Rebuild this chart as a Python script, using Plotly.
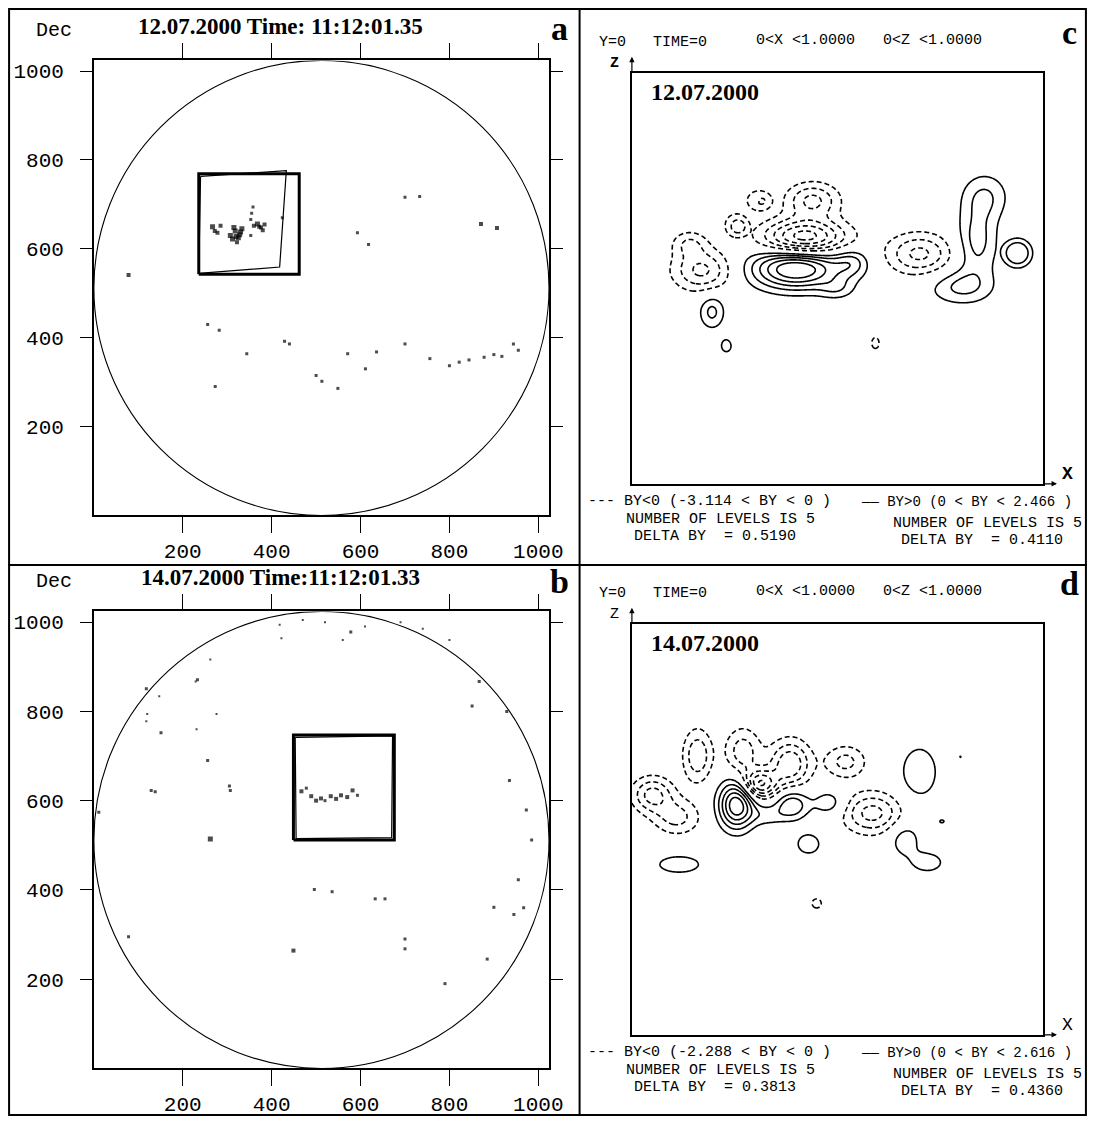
import numpy as np
import plotly.graph_objects as go

# ---------------- page geometry (screen pixels) ----------------
OFF = 8                      # default body margin of the html page
FW, FH = 1109 - 2 * OFF, 1129 - 2 * OFF - 4
SY = FH / (1129 - 2 * OFF)   # tiny vertical squeeze so the page never overflows

def px(x):
    return (x - OFF) / FW

def py(y):
    return 1 - (y - OFF) * SY / FH

# ---------------- panels a / b : solar disk ----------------
disk_center = [512, 512]
disk_radius = 512
disk_ticks = [200, 400, 600, 800, 1000]

a_spot_x = [78, 267, 272, 278, 285, 307, 312, 318, 322, 328, 333, 315, 360, 368, 376, 384, 353, 355, 358, 353, 424,
            593, 618, 700, 733, 871, 907, 256, 282, 344, 429, 440, 273, 500, 513, 549, 571, 611, 636, 700, 756,
            800, 822, 844, 878, 900, 918, 944, 955, 325, 330, 320, 372, 380]
a_spot_y = [541, 650, 640, 636, 652, 630, 622, 640, 615, 632, 645, 648, 652, 656, 648, 655, 666, 680, 694, 630, 670,
            636, 610, 716, 718, 656, 647, 430, 417, 364, 392, 386, 290, 315, 302, 286, 364, 330, 368, 386, 353,
            337, 345, 350, 356, 362, 358, 386, 372, 625, 638, 628, 650, 642]
a_spot_s = [4, 5, 4, 4, 4, 5, 5, 5, 4, 5, 5, 5, 4, 5, 4, 4, 3, 3, 3, 3, 3,
            3, 3, 3, 3, 4, 4, 3, 3, 3, 3, 3, 3, 3, 3, 3, 3, 3, 3, 3, 3,
            3, 3, 3, 3, 3, 3, 3, 3, 5, 5, 5, 4, 4]
a_box_x = [236, 462, 462, 236, 236]
a_box_y = [543, 543, 769, 769, 543]
a_quad_x = [240, 433, 418, 236, 240]
a_quad_y = [763, 776, 559, 545, 763]

b_spot_x = [467, 489, 511, 533, 556, 582, 593, 478, 520, 262, 129, 138, 233, 256, 307, 305, 151, 118, 11, 78,
            449, 496, 536, 633, 655, 700, 700, 790, 885, 945, 967, 900, 955, 985, 935, 973, 929, 851, 867, 578,
            418, 422, 262, 229, 147, 120, 118, 276, 231, 470, 520, 560, 610, 690, 740, 800, 500, 545, 570]
b_spot_y = [621, 610, 605, 610, 612, 623, 612, 628, 600, 514, 623, 620, 871, 690, 623, 633, 752, 851, 574, 295,
            264, 401, 396, 380, 380, 290, 268, 190, 245, 345, 360, 361, 423, 512, 645, 579, 800, 812, 867, 978,
            994, 964, 916, 867, 834, 794, 778, 794, 760, 1005, 1000, 960, 990, 1000, 985, 960, 600, 604, 608]
b_spot_s = [4, 4, 4, 4, 4, 4, 3, 3, 3, 5, 3, 3, 3, 3, 3, 3, 3, 3, 3, 3,
            4, 3, 3, 3, 3, 3, 3, 3, 3, 3, 3, 3, 3, 3, 3, 3, 3, 3, 3, 3,
            2, 2, 2, 2, 2, 2, 2, 2, 2, 2, 2, 2, 2, 2, 2, 2, 4, 4, 4]
b_box_x = [449, 676, 676, 449, 449]
b_box_y = [512, 512, 747, 747, 512]
b_quad_x = [453, 672, 670, 455, 453]
b_quad_y = [742, 745, 517, 515, 742]

# ---------------- panels c / d : BY contour sources ----------------
# each source: centre (x, z), amplitude, widths (sx, sz), shape exponent
c_pos_x   = [0.40, 0.535, 0.50, 0.195, 0.23, 0.86, 0.84, 0.80, 0.94]
c_pos_z   = [0.525, 0.54, 0.475, 0.42, 0.336, 0.70, 0.59, 0.48, 0.562]
c_pos_amp = [2.6, 0.8, 0.55, 0.95, 0.6, 0.8, 1.0, 0.9, 1.0]
c_pos_sx  = [0.075, 0.03, 0.03, 0.022, 0.013, 0.04, 0.035, 0.055, 0.037]
c_pos_sz  = [0.035, 0.025, 0.018, 0.03, 0.016, 0.04, 0.06, 0.03, 0.037]
c_pos_p   = [2, 2, 2, 2, 2, 2, 2, 2, 4]

c_neg_x   = [0.17, 0.14, 0.255, 0.31, 0.42, 0.44, 0.70, 0.593]
c_neg_z   = [0.52, 0.585, 0.63, 0.69, 0.60, 0.69, 0.56, 0.343]
c_neg_amp = [1.7, 1.0, 1.0, 1.0, 3.0, 1.7, 1.7, 0.65]
c_neg_sx  = [0.05, 0.03, 0.03, 0.032, 0.07, 0.045, 0.055, 0.013]
c_neg_sz  = [0.035, 0.022, 0.03, 0.026, 0.03, 0.03, 0.035, 0.02]
c_neg_p   = [2, 2, 4, 4, 2, 2, 2, 2]

d_pos_x   = [0.255, 0.39, 0.48, 0.33, 0.43, 0.115, 0.70, 0.665, 0.72, 0.755, 0.80]
d_pos_z   = [0.56, 0.56, 0.565, 0.535, 0.465, 0.415, 0.64, 0.475, 0.42, 0.52, 0.677]
d_pos_amp = [2.6, 1.3, 0.75, 0.6, 0.75, 0.75, 0.8, 0.75, 0.7, 0.5, 0.47]
d_pos_sx  = [0.03, 0.028, 0.028, 0.03, 0.024, 0.045, 0.035, 0.027, 0.032, 0.009, 0.004]
d_pos_sz  = [0.04, 0.025, 0.022, 0.018, 0.021, 0.018, 0.05, 0.03, 0.02, 0.006, 0.004]
d_pos_p   = [2] * 11

d_neg_x   = [0.05, 0.11, 0.16, 0.27, 0.31, 0.385, 0.52, 0.585, 0.45]
d_neg_z   = [0.585, 0.53, 0.68, 0.69, 0.61, 0.66, 0.665, 0.54, 0.32]
d_neg_amp = [1.3, 0.9, 1.1, 1.0, 2.0, 1.5, 0.9, 1.3, 0.5]
d_neg_sx  = [0.035, 0.04, 0.025, 0.03, 0.03, 0.035, 0.035, 0.05, 0.015]
d_neg_sz  = [0.03, 0.03, 0.045, 0.04, 0.025, 0.04, 0.028, 0.035, 0.015]
d_neg_p   = [2] * 9

c_levels = {"neg_delta": 0.5190, "pos_delta": 0.4110, "n": 5}
d_levels = {"neg_delta": 0.3813, "pos_delta": 0.4360, "n": 5}

grid = np.linspace(0, 1, 401)
GX, GZ = np.meshgrid(grid, grid)

def field(xs, zs, amps, sxs, szs, ps):
    f = np.zeros_like(GX)
    for x0, z0, a, sx, sz, p in zip(xs, zs, amps, sxs, szs, ps):
        r2 = ((GX - x0) / sx) ** 2 + ((GZ - z0) / sz) ** 2
        f += a * np.exp(-0.5 * r2) if p == 2 else a * np.exp(-(r2 ** (p / 2.0)))
    return f

BY_c = field(c_pos_x, c_pos_z, c_pos_amp, c_pos_sx, c_pos_sz, c_pos_p) - \
       field(c_neg_x, c_neg_z, c_neg_amp, c_neg_sx, c_neg_sz, c_neg_p)
BY_d = field(d_pos_x, d_pos_z, d_pos_amp, d_pos_sx, d_pos_sz, d_pos_p) - \
       field(d_neg_x, d_neg_z, d_neg_amp, d_neg_sx, d_neg_sz, d_neg_p)

fig = go.Figure()

MONO = "Liberation Mono"
SERIF = "Liberation Serif"

def disk_axes(n, top, bottom):
    xa = dict(domain=[px(95), px(556)], range=[0, 1024], tickvals=disk_ticks, ticks="outside", ticklen=16,
              tickwidth=1.3, tickcolor="black", mirror="allticks", showline=True, linecolor="black", linewidth=1.5,
              showgrid=False, zeroline=False, tickfont=dict(family=MONO, size=21, color="black"),
              anchor="y" + n, fixedrange=True)
    ya = dict(domain=[py(bottom), py(top)], range=[0, 1024], tickvals=disk_ticks, ticks="outside", ticklen=12,
              tickwidth=1.3, tickcolor="black", mirror="allticks", showline=True, linecolor="black", linewidth=1.5,
              showgrid=False, zeroline=False, tickfont=dict(family=MONO, size=21, color="black"),
              anchor="x" + n, ticklabelstandoff=12, fixedrange=True)
    return xa, ya

def box_axes(n, top, bottom):
    xa = dict(domain=[px(640), px(1056)], range=[0, 1], showticklabels=False, ticks="", showline=True,
              mirror=True, linecolor="black", linewidth=1.5, showgrid=False, zeroline=False,
              anchor="y" + n, fixedrange=True)
    ya = dict(domain=[py(bottom), py(top)], range=[0, 1], showticklabels=False, ticks="", showline=True,
              mirror=True, linecolor="black", linewidth=1.5, showgrid=False, zeroline=False,
              anchor="x" + n, fixedrange=True)
    return xa, ya

xa1, ya1 = disk_axes("", 61, 521)
xa1["anchor"] = "y"; ya1["anchor"] = "x"
xa2, ya2 = disk_axes("2", 618, 1080)
xa3, ya3 = box_axes("3", 74, 489)
xa4, ya4 = box_axes("4", 631, 1046)

def disk_panel(xr, yr, sx, sy, ss, bx, by, qx, qy):
    fig.add_shape(type="circle", xref=xr, yref=yr,
                  x0=disk_center[0] - disk_radius, x1=disk_center[0] + disk_radius,
                  y0=disk_center[1] - disk_radius, y1=disk_center[1] + disk_radius,
                  line=dict(color="black", width=1.1))
    fig.add_trace(go.Scatter(x=bx, y=by, mode="lines", line=dict(color="black", width=3),
                             xaxis=xr, yaxis=yr, showlegend=False, hoverinfo="skip"))
    fig.add_trace(go.Scatter(x=qx, y=qy, mode="lines", line=dict(color="black", width=1.2),
                             xaxis=xr, yaxis=yr, showlegend=False, hoverinfo="skip"))
    fig.add_trace(go.Scatter(x=sx, y=sy, mode="markers",
                             marker=dict(symbol="square", size=ss, color="black", line=dict(width=0)),
                             xaxis=xr, yaxis=yr, showlegend=False))

disk_panel("x", "y", a_spot_x, a_spot_y, a_spot_s, a_box_x, a_box_y, a_quad_x, a_quad_y)
disk_panel("x2", "y2", b_spot_x, b_spot_y, b_spot_s, b_box_x, b_box_y, b_quad_x, b_quad_y)

def contour_panel(xr, yr, BY, lv):
    n, dn, dp = lv["n"], lv["neg_delta"], lv["pos_delta"]
    fig.add_trace(go.Contour(x=grid, y=grid, z=BY, autocontour=False,
                             contours=dict(start=-n * dn, end=-dn * 0.999, size=dn, coloring="none"),
                             line=dict(color="black", width=1.6, dash="5px,3px", smoothing=0.5),
                             showscale=False, xaxis=xr, yaxis=yr, hoverinfo="skip"))
    fig.add_trace(go.Contour(x=grid, y=grid, z=BY, autocontour=False,
                             contours=dict(start=dp, end=n * dp * 1.001, size=dp, coloring="none"),
                             line=dict(color="black", width=1.6, smoothing=0.5),
                             showscale=False, xaxis=xr, yaxis=yr, hoverinfo="skip"))

contour_panel("x3", "y3", BY_c, c_levels)
contour_panel("x4", "y4", BY_d, d_levels)

ann = []

def txt(x, y, s, size, family=MONO, bold=False, xanchor="center"):
    ann.append(dict(x=px(x), y=py(y), xref="paper", yref="paper", text=("<b>%s</b>" % s) if bold else s,
                    showarrow=False, xanchor=xanchor, yanchor="middle",
                    font=dict(family=family, size=size, color="black")))

panel_titles = ["12.07.2000 Time: 11:12:01.35", "14.07.2000 Time:11:12:01.33"]
box_dates = ["12.07.2000", "14.07.2000"]
c_ranges = ["(-3.114 &lt; BY &lt; 0 )", "(0 &lt; BY &lt; 2.466 )"]
d_ranges = ["(-2.288 &lt; BY &lt; 0 )", "(0 &lt; BY &lt; 2.616 )"]

for k, dy in enumerate([0, 557]):
    txt(55, 31 + dy, "Dec", 20)
    txt(284, 27 + dy, panel_titles[k], 23, SERIF, True)
    txt(567, 29 + dy + 2 * k, "ab"[k], 34, SERIF, True)

for k, dy in enumerate([0, 557]):
    lv = [c_levels, d_levels][k]
    rg = [c_ranges, d_ranges][k]
    txt(620, 43 + dy, "Y=0", 15)
    txt(689, 43 + dy, "TIME=0", 15)
    txt(816, 41 + dy, "0&lt;X &lt;1.0000", 15)
    txt(945, 41 + dy, "0&lt;Z &lt;1.0000", 15)
    txt(1083, 33 + dy, "cd"[k], 34, SERIF, True)
    txt(622, 64 + dy, "Z", 15, MONO, k == 0)
    txt(657, 93 + dy, box_dates[k], 24, SERIF, True, "left")
    txt(1081, 479 + dy, "X", 18, MONO, k == 0)
    txt(593, 507 + dy, "--- BY&lt;0 " + rg[0], 15, MONO, False, "left")
    txt(870, 507 + dy, "\u2014\u2014 BY&gt;0 " + rg[1], 14, MONO, False, "left")
    txt(730, 525 + dy, "NUMBER OF LEVELS IS %d" % lv["n"], 15)
    txt(724, 542 + dy, "DELTA BY  = %.4f" % lv["neg_delta"], 15)
    txt(1000, 529 + dy, "NUMBER OF LEVELS IS %d" % lv["n"], 15)
    txt(995, 546 + dy, "DELTA BY  = %.4f" % lv["pos_delta"], 15)

for xr, yr in [("x3", "y3"), ("x4", "y4")]:
    ann.append(dict(x=0, y=1.04, ax=0, ay=1.0, xref=xr, yref=yr, axref=xr, ayref=yr, text="",
                    showarrow=True, arrowhead=2, arrowsize=0.9, arrowwidth=1.2, arrowcolor="black"))
    ann.append(dict(x=1.035, y=0, ax=1.0, ay=0, xref=xr, yref=yr, axref=xr, ayref=yr, text="",
                    showarrow=True, arrowhead=2, arrowsize=0.9, arrowwidth=1.2, arrowcolor="black"))

shapes = [
    dict(type="rect", xref="paper", yref="paper", x0=0.001, x1=0.999, y0=py(1127), y1=0.999,
         line=dict(color="black", width=2)),
    dict(type="line", xref="paper", yref="paper", x0=px(587), x1=px(587), y0=py(1127), y1=1,
         line=dict(color="black", width=2)),
    dict(type="line", xref="paper", yref="paper", x0=0, x1=1, y0=py(571), y1=py(571),
         line=dict(color="black", width=2)),
]

fig.update_layout(
    width=FW, height=FH, margin=dict(l=0, r=0, t=0, b=0),
    paper_bgcolor="white", plot_bgcolor="white", showlegend=False,
    xaxis=xa1, yaxis=ya1, xaxis2=xa2, yaxis2=ya2, xaxis3=xa3, yaxis3=ya3, xaxis4=xa4, yaxis4=ya4,
    annotations=ann,
)
for s in shapes:
    fig.add_shape(**s)

fig.write_html("out.html")
